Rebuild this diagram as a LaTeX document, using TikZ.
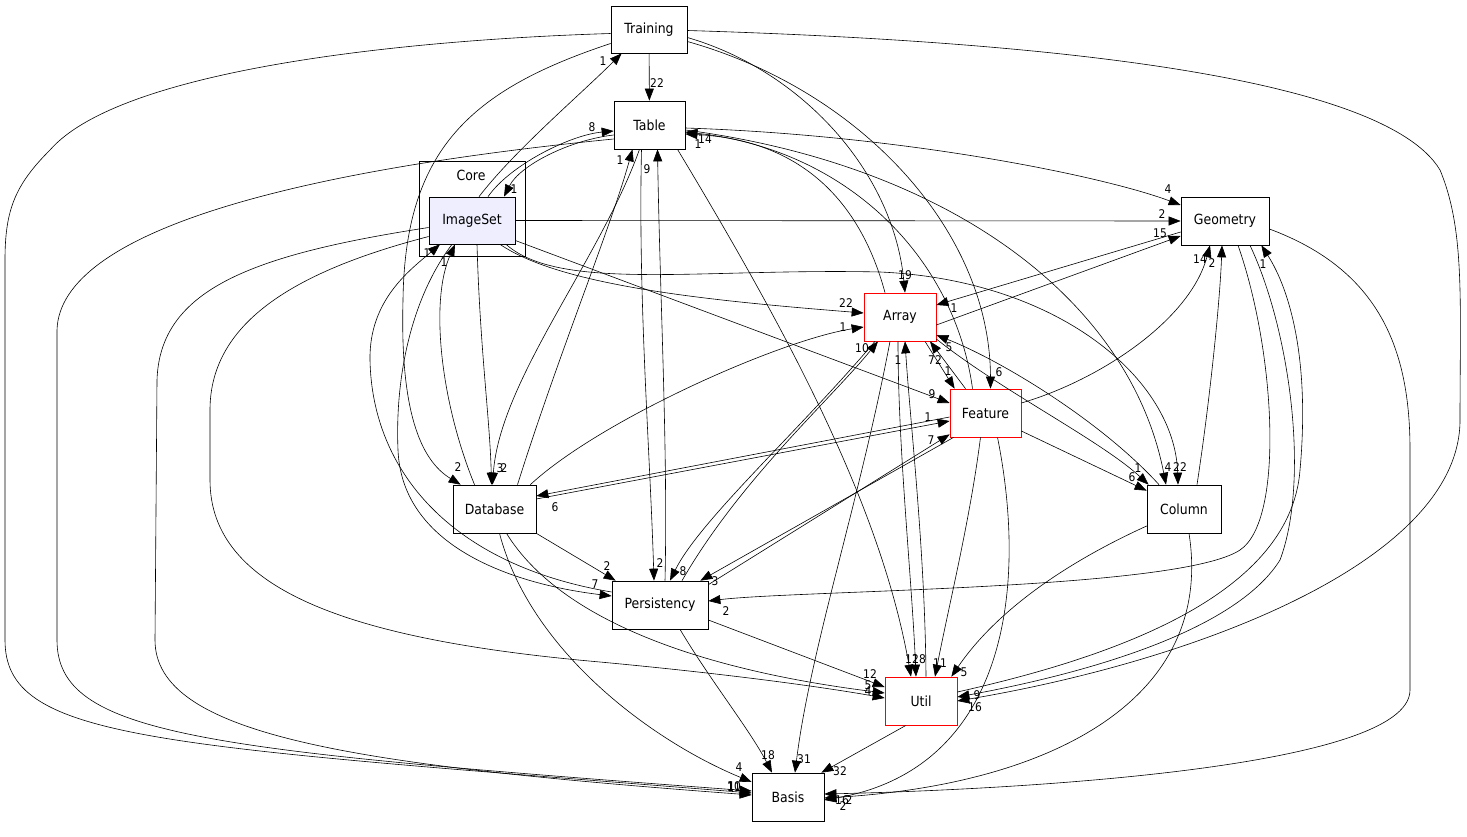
\documentclass[tikz,border=0pt]{standalone}
\usepackage{fontspec}
\setmainfont{DejaVu Sans}
\newfontfamily\gfont[FakeStretch=0.89]{DejaVu Sans}
\usetikzlibrary{arrows.meta}
\definecolor{isfill}{HTML}{EEEEFF}
\begin{document}
\begin{tikzpicture}[x=1pt,y=-1pt,
  box/.style={draw, line width=0.7pt, inner sep=0pt, font=\gfont\fontsize{14}{16}\selectfont},
  redbox/.style={box, draw=red},
  cluster/.style={draw, line width=0.7pt, inner sep=0pt},
  lbl/.style={font=\gfont\fontsize{12}{13}\selectfont, inner sep=0pt},
  e/.style={line width=0.6pt, -{Triangle[length=12pt,width=9pt]}},
]
\useasboundingbox (0,0) rectangle (1467,837);
% nodes
\node[box, minimum width=76pt, minimum height=47pt] (Training) at (649,29.5) {Training};
\node[box, minimum width=71pt, minimum height=48pt] (Table) at (649.5,125) {Table};
\node[cluster, minimum width=106pt, minimum height=95pt] (Core) at (472,208.5) {};
\node[font=\gfont\fontsize{14}{16}\selectfont, inner sep=0pt] (CoreLabel) at (471,175) {Core};
\node[box, fill=isfill, minimum width=86pt, minimum height=47pt] (ImageSet) at (472,220.5) {ImageSet};
\node[box, minimum width=88pt, minimum height=48pt] (Geometry) at (1225,221) {Geometry};
\node[redbox, minimum width=72pt, minimum height=48pt] (Array) at (900,317) {Array};
\node[redbox, minimum width=71pt, minimum height=48pt] (Feature) at (985.5,413) {Feature};
\node[box, minimum width=74pt, minimum height=48pt] (Column) at (1184,509) {Column};
\node[box, minimum width=83pt, minimum height=48pt] (Database) at (494.5,509) {Database};
\node[box, minimum width=96pt, minimum height=48pt] (Persistency) at (660,605) {Persistency};
\node[redbox, minimum width=72pt, minimum height=48pt] (Util) at (921,701) {Util};
\node[box, minimum width=72pt, minimum height=48pt] (Basis) at (788,797) {Basis};

% Training
\draw[e] (Training) -- (Table) node[lbl] (l1) at (657,83) {22};
\draw[e] ([yshift=-8pt]Training.east) .. controls (800,70) and (893,170) .. ([xshift=5pt]Array.north) node[lbl] (l2) at (905,275) {19};
\draw[e] ([yshift=-12pt]Training.east) .. controls (860,90) and (990,230) .. ([xshift=5pt]Feature.north) node[lbl] (l3) at (999,372) {6};
\draw[e] ([yshift=-1pt]Training.east) .. controls (1000,40) and (1380,70) .. (1440,170) .. controls (1465,230) and (1460,300) .. (1460,420) .. controls (1460,560) and (1200,660) .. (Util.east) node[lbl] (l4) at (975,707) {16};
\draw[e] ([yshift=-4pt]Training.west) .. controls (400,40) and (120,70) .. (50,150) .. controls (15,185) and (5,210) .. (5,260) -- (5,640) .. controls (5,740) and (150,745) .. ([yshift=4pt]Basis.west) node[lbl] (l5) at (731.5,786) {1};
\draw[e] ([yshift=-14pt]Training.west) .. controls (470,90) and (405,150) .. (403,300) .. controls (400,410) and (420,460) .. ([xshift=8pt]Database.north west) node[lbl] (l6) at (458,467) {2};

% Table
\draw[e] ([yshift=-5pt]Table.east) .. controls (950,165) and (1130,300) .. ([xshift=-18pt]Column.north) node[lbl] (l7) at (1168,467) {4};
\draw[e] ([yshift=-3pt]Table.east) .. controls (900,135) and (1100,175) .. ([yshift=16pt]Geometry.west) node[lbl] (l8) at (1168,189) {4};
\draw[e] ([yshift=-10pt]Table.west) .. controls (570,140) and (520,165) .. ([xshift=32pt]ImageSet.north) node[lbl] (l9) at (514,189) {1};
\draw[e] ([xshift=-10pt]Table.south) .. controls (600,260) and (500,380) .. ([xshift=-2pt]Database.north) node[lbl] (l10) at (504,468) {2};
\draw[e] ([xshift=-8pt]Table.south) .. controls (638,300) and (650,450) .. ([xshift=-6pt]Persistency.north) node[lbl] (l11) at (660,563) {2};
\draw[e] ([xshift=28pt]Table.south) .. controls (780,320) and (880,500) .. ([xshift=-10pt]Util.north) node[lbl] (l12) at (912,659) {12};
\draw[e] ([yshift=-14pt]Table.west) .. controls (300,170) and (60,230) .. (57,330) -- (57,640) .. controls (57,735) and (200,750) .. ([yshift=6pt]Basis.west) node[lbl] (l13) at (734,786) {10};

% ImageSet
\draw[e] ([xshift=7pt]ImageSet.north) .. controls (515,150) and (580,95) .. ([xshift=11pt]Training.south west) node[lbl] (l14) at (603,61) {1};
\draw[e] ([xshift=16pt]ImageSet.north) .. controls (510,165) and (570,135) .. ([yshift=-6pt]Table.west) node[lbl] (l15) at (592,127) {8};
\draw[e] (ImageSet.east) -- (Geometry.west) node[lbl] (l16) at (1162,214) {2};
\draw[e] ([xshift=28pt]ImageSet.south) .. controls (560,285) and (700,300) .. ([yshift=4pt]Array.west) node[lbl] (l17) at (846,303) {22};
\draw[e] ([yshift=-20pt]ImageSet.east) -- ([yshift=10pt]Feature.west) node[lbl] (l18) at (932,394) {9};
\draw[e] ([xshift=34pt]ImageSet.south) .. controls (560,292) and (700,268) .. (880,272) .. controls (1060,280) and (1175,380) .. ([xshift=-6pt]Column.north) node[lbl] (l19) at (1180,467) {22};
\draw[e] ([xshift=5pt]ImageSet.south) .. controls (480,350) and (490,420) .. ([xshift=-3pt]Database.north) node[lbl] (l20) at (500,468) {3};
\draw[e] ([xshift=-20pt]ImageSet.south) .. controls (410,300) and (395,380) .. (398,450) .. controls (402,550) and (520,585) .. ([yshift=9pt]Persistency.west) node[lbl] (l21) at (595,584) {7};
\draw[e] ([yshift=-7pt]ImageSet.west) .. controls (250,255) and (160,290) .. (157,380) -- (155,640) .. controls (155,735) and (350,765) .. ([yshift=2pt]Basis.west) node[lbl] (l22) at (734,787) {11};
\draw[e] ([yshift=-16pt]ImageSet.west) .. controls (300,270) and (210,320) .. (210,410) -- (210,480) .. controls (210,590) and (350,640) .. (600,662) .. controls (750,676) and (840,690) .. ([yshift=3pt]Util.west) node[lbl] (l23) at (868,691) {4};

% Database
\draw[e] ([xshift=23pt]Database.north) .. controls (560,350) and (610,230) .. ([xshift=-17pt]Table.south) node[lbl] (l24) at (620,160) {1};
\draw[e] ([xshift=-20pt]Database.north) .. controls (440,400) and (430,300) .. ([xshift=-17pt]ImageSet.south) node[lbl] (l25) at (444,262) {1};
\draw[e] ([xshift=-6pt]Database.north east) .. controls (600,420) and (780,340) .. ([yshift=-10pt]Array.west) node[lbl] (l26) at (843,327) {1};
\draw[e] ([yshift=10pt]Database.east) -- ([yshift=-8pt]Feature.west) node[lbl] (l27) at (928,417) {1};
\draw[e] (Database.south east) -- ([xshift=4pt]Persistency.north west) node[lbl] (l28) at (607,566) {2};
\draw[e] ([xshift=5pt]Database.south) .. controls (530,650) and (650,740) .. ([yshift=15pt]Basis.west) node[lbl] (l29) at (739,767) {4};
\draw[e] ([xshift=12pt]Database.south) .. controls (560,620) and (700,670) .. ([yshift=8pt]Util.west) node[lbl] (l30) at (868,685) {5};

% Persistency
\draw[e] ([yshift=13pt]Persistency.west) .. controls (450,565) and (372,470) .. (370,360) .. controls (369,300) and (410,270) .. ([xshift=-32pt]ImageSet.south) node[lbl] (l31) at (427,253) {1};
\draw[e] ([xshift=5pt]Persistency.north) .. controls (668,450) and (660,300) .. ([xshift=8pt]Table.south) node[lbl] (l32) at (647,169) {9};
\draw[e] ([xshift=22pt]Persistency.north) .. controls (740,480) and (830,400) .. ([xshift=-22pt]Array.south) node[lbl] (l33) at (862,348) {10};
\draw[e] ([yshift=-4pt]Persistency.north east) -- ([yshift=3pt]Feature.south west) node[lbl] (l34) at (931,440) {7};
\draw[e] ([yshift=-15pt]Persistency.east) -- ([yshift=14pt]Util.west) node[lbl] (l35) at (870,674) {12};
\draw[e] ([xshift=20pt]Persistency.south) .. controls (710,680) and (750,730) .. ([xshift=-16pt]Basis.north) node[lbl] (l36) at (768,755) {18};

% Array
\draw[e] ([xshift=-15pt]Array.north) .. controls (860,200) and (800,140) .. ([yshift=-9pt]Table.east) node[lbl] (l37) at (698,144) {1};
\draw[e] ([xshift=-25pt]Array.south) .. controls (800,430) and (700,520) .. ([xshift=10pt]Persistency.north) node[lbl] (l38) at (683,571) {8};
\draw[e] ([xshift=25pt]Array.south) -- ([xshift=5pt]Feature.north west) node[lbl] (l39) at (948,371) {1};
\draw[e] ([yshift=-8pt]Array.east) -- ([yshift=-15pt]Geometry.west) node[lbl] (l40) at (1160,233) {15};
\draw[e] ([yshift=-22pt]Array.east) .. controls (1000,390) and (1100,440) .. ([xshift=2pt]Column.north west) node[lbl] (l41) at (1138,468) {1};
\draw[e] ([xshift=-2pt]Array.south) .. controls (898,450) and (912,580) .. ([xshift=-5pt]Util.north) node[lbl] (l42) at (919,659) {18};
\draw[e] ([xshift=-10pt]Array.south) .. controls (860,500) and (810,650) .. ([xshift=7pt]Basis.north) node[lbl] (l43) at (804,759) {31};

% Feature
\draw[e] ([xshift=-13pt]Feature.north) .. controls (955,260) and (850,150) .. ([yshift=-7pt]Table.east) node[lbl] (l44) at (705,139) {14};
\draw[e] ([xshift=-20pt]Feature.north) -- ([xshift=30pt]Array.south) node[lbl] (l45) at (935,360) {72};
\draw[e] ([yshift=10pt]Feature.east) .. controls (1100,380) and (1190,320) .. ([xshift=-15pt]Geometry.south) node[lbl] (l46) at (1200,259) {14};
\draw[e] ([yshift=-18pt]Feature.east) -- ([yshift=-6pt]Column.north west) node[lbl] (l47) at (1132,477) {6};
\draw[e] ([yshift=-4pt]Feature.west) -- ([yshift=13pt]Database.east) node[lbl] (l48) at (555,507) {6};
\draw[e] ([xshift=4pt]Feature.south west) -- ([xshift=-8pt]Persistency.north east) node[lbl] (l49) at (715,581) {3};
\draw[e] ([xshift=-5pt]Feature.south) .. controls (970,520) and (950,600) .. ([xshift=14pt]Util.north) node[lbl] (l50) at (940,663) {11};
\draw[e] ([xshift=12pt]Feature.south) .. controls (1030,600) and (1000,770) .. ([yshift=-3pt]Basis.east) node[lbl] (l51) at (842,800) {16};

% Column
\draw[e] ([xshift=-25pt]Column.north) .. controls (1100,420) and (1000,360) .. ([yshift=-18pt]Array.east) node[lbl] (l52) at (949,347) {5};
\draw[e] ([xshift=13pt]Column.north) .. controls (1210,400) and (1220,300) .. ([xshift=-3pt]Geometry.south) node[lbl] (l53) at (1212,263) {2};
\draw[e] ([yshift=-17pt]Column.west) .. controls (1050,570) and (990,620) .. ([xshift=-6pt]Util.north east) node[lbl] (l54) at (964,672) {5};
\draw[e] ([xshift=5pt]Column.south) .. controls (1215,700) and (1050,785) .. ([yshift=-1pt]Basis.east) node[lbl] (l55) at (843,806) {2};

% Geometry
\draw[e] ([yshift=-11pt]Geometry.west) -- ([yshift=12pt]Array.east) node[lbl] (l56) at (954,308) {1};
\draw[e] ([xshift=13pt]Geometry.south) .. controls (1275,350) and (1285,520) .. (1240,550) .. controls (1180,590) and (800,590) .. ([yshift=4pt]Persistency.east) node[lbl] (l57) at (726,611) {2};
\draw[e] ([xshift=25pt]Geometry.south) .. controls (1290,330) and (1310,480) .. (1280,560) .. controls (1230,640) and (1050,680) .. ([yshift=4pt]Util.east) node[lbl] (l58) at (977,695) {9};
\draw[e] ([yshift=-8pt]Geometry.east) .. controls (1380,270) and (1410,350) .. (1410,450) -- (1410,690) .. controls (1410,770) and (1000,790) .. ([yshift=3pt]Basis.east) node[lbl] (l59) at (849,800) {2};

% Util
\draw[e] ([xshift=5pt]Util.north) .. controls (925,550) and (910,420) .. ([xshift=5pt]Array.south) node[lbl] (l60) at (898,360) {1};
\draw[e] ([yshift=9pt]Util.east) .. controls (1100,660) and (1290,600) .. (1300,470) .. controls (1310,360) and (1290,290) .. ([xshift=-8pt]Geometry.south east) node[lbl] (l61) at (1263,264) {1};
\draw[e] ([xshift=-15pt]Util.south) -- ([xshift=-3pt]Basis.north east) node[lbl] (l62) at (840,771) {32};
\end{tikzpicture}
\end{document}
